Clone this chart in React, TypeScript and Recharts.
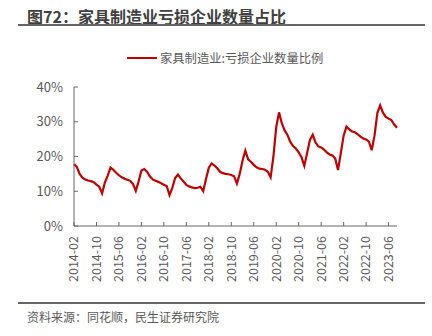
import { LineChart, Line, XAxis, YAxis } from "recharts";

const START_YEAR = 2014;
const START_MONTH = 2;

// 家具制造业:亏损企业数量比例 (%), monthly 2014-02 .. 2023-09
const lossRatio = [
  17.8, 17.0, 15.0, 13.9, 13.4, 13.1, 12.9, 12.6, 11.9, 11.3, 9.4, 12.5,
  14.5, 16.8, 16.2, 15.3, 14.6, 14.0, 13.6, 13.3, 13.0, 12.1, 10.1, 12.8,
  16.0, 16.4, 15.6, 14.3, 13.4, 13.0, 12.7, 12.3, 11.9, 11.5, 8.9, 11.0,
  13.8, 14.8, 13.7, 12.8, 11.8, 11.4, 11.1, 10.9, 11.0, 11.3, 10.0, 13.5,
  16.8, 18.0, 17.4, 16.6, 15.6, 15.2, 15.0, 14.9, 14.7, 14.3, 12.2, 15.0,
  18.8, 21.7, 19.2, 18.5, 17.6, 16.9, 16.5, 16.4, 16.2, 15.6, 14.0, 20.0,
  28.5, 32.7, 29.5, 27.5, 26.2, 24.2, 23.0, 22.3, 21.2, 19.8, 17.3, 21.0,
  24.8, 26.3, 24.0, 22.9, 22.6, 22.0, 21.2, 20.6, 20.3, 19.4, 16.1, 21.0,
  26.0, 28.6, 27.8, 27.2, 27.0, 26.4, 25.7, 25.2, 24.9, 24.3, 21.8, 26.0,
  32.5, 34.7, 32.6, 31.4, 30.9, 30.5, 29.2, 28.3,
];

const months = lossRatio.map((_, i) => {
  const m = START_MONTH - 1 + i;
  const y = START_YEAR + Math.floor(m / 12);
  return `${y}-${String((m % 12) + 1).padStart(2, "0")}`;
});

const yTicks = [0, 10, 20, 30, 40];

const data = months.map((month, i) => ({ month, value: lossRatio[i] }));

const FONT = '"Noto Sans CJK SC", "Noto Sans", sans-serif';
const TEXT = "#595959";
const AXIS = "#666666";
const RED = "#C00000";

const XTick = (props: any) => {
  const { x, y, payload } = props;
  return (
    <g>
      <line x1={x} y1={y} x2={x} y2={y - 4} stroke={AXIS} strokeWidth={1} />
      <text
        x={0}
        y={0}
        transform={`translate(${x},${y + 10}) rotate(-90)`}
        textAnchor="end"
        dy="0.35em"
        fill={TEXT}
        fontSize={12.5}
        fontFamily={FONT}
      >
        {payload.value}
      </text>
    </g>
  );
};

const YTick = (props: any) => {
  const { x, y, payload } = props;
  return (
    <g>
      <line x1={x} y1={y} x2={x + 4} y2={y} stroke={AXIS} strokeWidth={1} />
      <text x={x - 11} y={y} dy="0.35em" textAnchor="end" fill={TEXT} fontSize={13} fontFamily={FONT}>
        {`${payload.value}%`}
      </text>
    </g>
  );
};

export default function App() {
  return (
    <div style={{ position: "absolute", left: 0, top: 0, width: 432, height: 336, background: "#fff", fontFamily: FONT }}>
      <div style={{ position: "absolute", left: 27, top: 6, fontSize: 16, fontWeight: 700, color: "#404040", whiteSpace: "nowrap", lineHeight: "20px" }}>
        图72：家具制造业亏损企业数量占比
      </div>
      <div style={{ position: "absolute", left: 18, top: 24, width: 407, height: 1.5, background: "#666" }} />

      <div style={{ position: "absolute", left: 127, top: 49, display: "flex", alignItems: "center", whiteSpace: "nowrap" }}>
        <div style={{ width: 30, height: 2.5, background: RED, marginRight: 3 }} />
        <span style={{ fontSize: 12.3, color: TEXT, lineHeight: "18px" }}>家具制造业:亏损企业数量比例</span>
      </div>

      <div style={{ position: "absolute", left: 0, top: 0 }}>
        <LineChart width={432} height={336} data={data} margin={{ top: 87, right: 35, bottom: 50, left: 14 }}>
          <XAxis
            dataKey="month"
            interval={7}
            height={60}
            tickSize={0}
            tickMargin={0}
            tickLine={false}
            axisLine={{ stroke: AXIS, strokeWidth: 1 }}
            tick={<XTick />}
          />
          <YAxis
            domain={[0, 40]}
            ticks={yTicks}
            width={60}
            tickSize={0}
            tickMargin={0}
            tickLine={false}
            axisLine={{ stroke: AXIS, strokeWidth: 1 }}
            tick={<YTick />}
            interval={0}
          />
          <Line type="linear" dataKey="value" stroke={RED} strokeWidth={2.2} dot={false} isAnimationActive={false} />
        </LineChart>
      </div>

      <div style={{ position: "absolute", left: 18, top: 302, width: 407, height: 1.5, background: "#666" }} />
      <div style={{ position: "absolute", left: 27, top: 309, fontSize: 12, color: TEXT, whiteSpace: "nowrap", lineHeight: "16px" }}>
        资料来源：同花顺，民生证券研究院
      </div>
    </div>
  );
}
